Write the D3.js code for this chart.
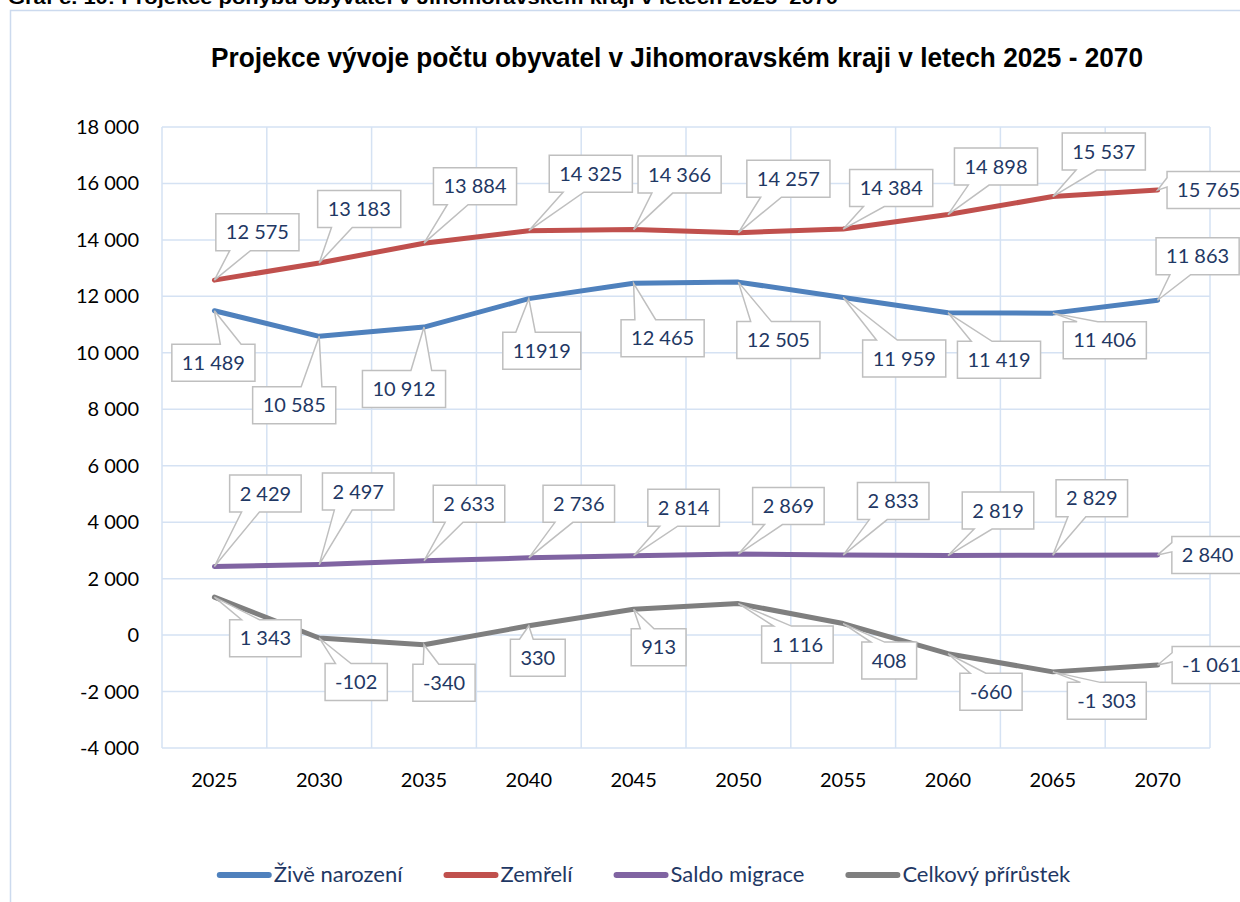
<!DOCTYPE html>
<html><head><meta charset="utf-8">
<script src="https://cdn.jsdelivr.net/npm/d3@7"></script>
<style>body{margin:0;background:#fff}svg{display:block}</style>
</head><body>
<svg id="c" width="1240" height="902"></svg>
<script>
// ---- data ----
const years = [2025, 2030, 2035, 2040, 2045, 2050, 2055, 2060, 2065, 2070];
const births = [11489, 10585, 10912, 11919, 12465, 12505, 11959, 11419, 11406, 11863];
const deaths = [12575, 13183, 13884, 14325, 14366, 14257, 14384, 14898, 15537, 15765];
const migration = [2429, 2497, 2633, 2736, 2814, 2869, 2833, 2819, 2829, 2840];
const totalGrowth = [1343, -102, -340, 330, 913, 1116, 408, -660, -1303, -1061];
const yTicks = [-4000, -2000, 0, 2000, 4000, 6000, 8000, 10000, 12000, 14000, 16000, 18000];
const seriesNames = ["Živě narození", "Zemřelí", "Saldo migrace", "Celkový přírůstek"];
const headerText = "Graf č. 10: Projekce pohybu obyvatel v Jihomoravském kraji v letech 2025–2070";
const titleText = "Projekce vývoje počtu obyvatel v Jihomoravském kraji v letech 2025 - 2070";

// ---- layout / style ----
const colors = ["#4F81BD", "#C0504D", "#8064A2", "#7F7F7F"];
const labelOffsets = [
  [[-1,52],[-25,69],[-20,62],[13,52],[29,55],[40,58],[61,61],[51,47],[52,27],[40,-44]],
  [[43,-48],[40,-54],[51,-57],[62,-57],[46,-55],[50,-54],[48,-41],[48,-48],[51,-45],[51,0]],
  [[51,-73],[39,-73],[45,-57],[50,-54],[50,-48],[50,-48],[50,-54],[50,-45],[39,-57],[50,0]],
  [[51,41],[37,44],[20,38],[9,32],[25,38],[59,41],[46,37],[43,38],[54,29],[54,0]]
];
const noGrouping = [[0, 3]]; // label printed without thousands space in the source

const series = [births, deaths, migration, totalGrowth];
const svg = d3.select("#c");
const loc = d3.formatLocale({decimal: ",", thousands: " ", grouping: [3], currency: ["", ""], minus: "-"});
const fmt = loc.format(",d");
const FONT = "Lato, 'Open Sans', sans-serif";

const x = d3.scaleBand().domain(years).range([162, 1210]).padding(0);
const y = d3.scaleLinear().domain([-4000, 18000]).range([748, 127]);
const px = v => x(v) + x.bandwidth() / 2;

// chart border
svg.append("rect").attr("x", 10.5).attr("y", 10.5).attr("width", 1400).attr("height", 1000)
  .attr("fill", "none").attr("stroke", "#CCDAEE").attr("stroke-width", 1.5);

// header (cut off at the top, as in the source page)
svg.append("text").attr("x", 8).attr("y", 4).text(headerText)
  .attr("font-family", "'Liberation Sans', Arial, sans-serif").attr("font-weight", "bold")
  .attr("font-size", 18).attr("textLength", 830).attr("lengthAdjust", "spacingAndGlyphs");

// title
svg.append("text").attr("x", 677).attr("y", 67).attr("text-anchor", "middle").text(titleText)
  .attr("font-family", "'Liberation Sans Narrow', 'Arial Narrow', 'Liberation Sans', Arial, sans-serif")
  .attr("font-weight", "bold").attr("font-size", 27)
  .attr("textLength", 932).attr("lengthAdjust", "spacingAndGlyphs");

// gridlines
const grid = svg.append("g").attr("stroke", "#D5E2F3").attr("stroke-width", 1.5);
grid.selectAll("line.h").data(yTicks).join("line")
  .attr("x1", 162).attr("x2", 1210).attr("y1", d => y(d)).attr("y2", d => y(d));
const bounds = years.map(d => x(d)).concat([x(years[years.length - 1]) + x.bandwidth()]);
grid.selectAll("line.v").data(bounds).join("line")
  .attr("x1", d => d).attr("x2", d => d).attr("y1", y(18000)).attr("y2", y(-4000));

// y axis labels
svg.append("g").selectAll("text").data(yTicks).join("text")
  .attr("x", 139).attr("y", d => y(d) + 7).attr("text-anchor", "end")
  .attr("font-family", FONT).attr("font-size", 20).attr("fill", "#000")
  .text(d => fmt(d));

// x axis labels
svg.append("g").selectAll("text").data(years).join("text")
  .attr("x", d => px(d)).attr("y", 787).attr("text-anchor", "middle")
  .attr("font-family", FONT).attr("font-size", 20).attr("fill", "#000")
  .text(d => d);

// lines
const line = d3.line().x((d, i) => px(years[i])).y(d => y(d));
svg.append("g").selectAll("path").data(series).join("path")
  .attr("d", d => line(d)).attr("fill", "none")
  .attr("stroke", (d, i) => colors[i]).attr("stroke-width", 5)
  .attr("stroke-linejoin", "round").attr("stroke-linecap", "round");

// callout path (Excel wedgeRectCallout geometry)
function callout(l, t, w, h, tx, ty) {
  const r = l + w, b = t + h, hc = l + w / 2, vc = t + h / 2;
  const dxPos = tx - hc, dyPos = ty - vc;
  const dz = Math.abs(dyPos) - Math.abs(dxPos * h / w);
  if (dz > 0) {
    const x1 = l + w * (dxPos > 0 ? 7 : 2) / 12, x2 = l + w * (dxPos > 0 ? 10 : 5) / 12;
    if (dyPos > 0) return `M${l},${t}L${r},${t}L${r},${b}L${x2},${b}L${tx},${ty}L${x1},${b}L${l},${b}Z`;
    return `M${l},${t}L${x1},${t}L${tx},${ty}L${x2},${t}L${r},${t}L${r},${b}L${l},${b}Z`;
  } else {
    const y1 = t + h * (dyPos > 0 ? 7 : 2) / 12, y2 = t + h * (dyPos > 0 ? 10 : 5) / 12;
    if (dxPos < 0) return `M${l},${t}L${r},${t}L${r},${b}L${l},${b}L${l},${y2}L${tx},${ty}L${l},${y1}Z`;
    return `M${l},${t}L${r},${t}L${r},${y1}L${tx},${ty}L${r},${y2}L${r},${b}L${l},${b}Z`;
  }
}

// data labels
const lg = svg.append("g");
series.forEach((vals, si) => {
  vals.forEach((v, i) => {
    const tx = px(years[i]), ty = y(v);
    const [dx, dy] = labelOffsets[si][i];
    const cx = tx + dx, cy = ty + dy;
    const plain = noGrouping.some(([a, b]) => a === si && b === i);
    const g = lg.append("g");
    const path = g.append("path").attr("fill", "#fff").attr("stroke", "#BFBFBF").attr("stroke-width", 1.5);
    const t = g.append("text").attr("x", cx).attr("y", cy + 7).attr("text-anchor", "middle")
      .attr("font-family", FONT).attr("font-size", 20).attr("fill", "#1F3864")
      .text(plain ? String(v) : fmt(v));
    const w = t.node().getComputedTextLength() + 20, h = 37;
    path.attr("d", callout(cx - w / 2, cy - h / 2, w, h, tx, ty));
  });
});

// legend
const leg = svg.append("g");
let lx = 0;
seriesNames.forEach((name, i) => {
  const g = leg.append("g");
  g.append("line").attr("x1", lx + 3).attr("x2", lx + 52).attr("y1", 875).attr("y2", 875)
    .attr("stroke", colors[i]).attr("stroke-width", 6).attr("stroke-linecap", "round");
  const t = g.append("text").attr("x", lx + 57).attr("y", 882).text(name)
    .attr("font-family", FONT).attr("font-size", 22).attr("fill", "#1F3864");
  lx += 57 + t.node().getComputedTextLength() + 41;
});
const totalW = lx - 41;
leg.attr("transform", `translate(${643.5 - totalW / 2},0)`);
</script>
</body></html>
